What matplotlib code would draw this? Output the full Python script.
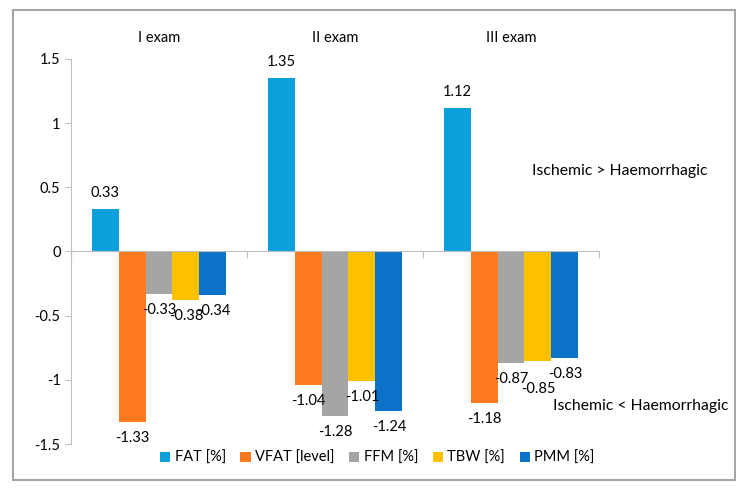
import numpy as np
import matplotlib.pyplot as plt
from matplotlib.patches import Rectangle

plt.rcParams['font.family'] = ['Lato', 'DejaVu Sans']

# data
exams = ['I exam', 'II exam', 'III exam']
series = ['FAT [%]', 'VFAT [level]', 'FFM [%]', 'TBW [%]', 'PMM [%]']
fat = [0.33, 1.35, 1.12]
vfat = [-1.33, -1.04, -1.18]
ffm = [-0.33, -1.28, -0.87]
tbw = [-0.38, -1.01, -0.85]
pmm = [-0.34, -1.24, -0.83]
colors = ['#0ba0dc', '#ff7a1e', '#a5a5a5', '#ffc000', '#0a72c8']

values = [fat, vfat, ffm, tbw, pmm]

fig = plt.figure(figsize=(7.5, 4.94), dpi=100)
ax = fig.add_axes([0.0947, 0.1012, 0.704, 0.7794])

x = np.arange(len(exams))
w = 0.153
for i, (name, vals, c) in enumerate(zip(series, values, colors)):
    pos = x - 2 * w + i * w
    ax.bar(pos, vals, width=w, color=c, label=name, zorder=2)
    for p, v in zip(pos, vals):
        # manual nudges like the original
        extra = 0.0
        if name == 'TBW [%]' and v == -0.85:
            extra = -0.1
        if v >= 0:
            ax.text(p, v + 0.07, f'{v:.2f}', ha='center', va='bottom', fontsize=10.5)
        else:
            ax.text(p, v - 0.07 + extra, f'{v:.2f}', ha='center', va='top', fontsize=10.5)

# exam titles above groups
for xi, lab in zip(x, exams):
    ax.text(xi, 1.66, lab, ha='center', va='center', fontsize=10.5, clip_on=False)

ax.text(2.12, 0.63, 'Ischemic > Haemorrhagic', ha='left', va='center', fontsize=11.3)
ax.text(2.24, -1.2, 'Ischemic < Haemorrhagic', ha='left', va='center', fontsize=11.3)

ax.set_xlim(-0.5, 2.5)
ax.set_ylim(-1.5, 1.5)
ax.set_yticks([-1.5, -1, -0.5, 0, 0.5, 1, 1.5])
ax.set_yticklabels(['-1.5', '-1', '-0.5', '0', '0.5', '1', '1.5'], fontsize=10.5)
ax.set_xticks([-0.5, 0.5, 1.5, 2.5])
ax.set_xticklabels([])
ax.tick_params(axis='x', length=5, color='#bfbfbf', direction='out')
ax.tick_params(axis='y', length=4, color='#bfbfbf', direction='out')

ax.spines['top'].set_visible(False)
ax.spines['right'].set_visible(False)
ax.spines['bottom'].set_position(('data', 0))
ax.spines['bottom'].set_color('#bfbfbf')
ax.spines['left'].set_color('#bfbfbf')
ax.spines['bottom'].set_zorder(3)

ax.legend(loc='center', bbox_to_anchor=(0.58, -0.036), ncol=5, frameon=False,
          fontsize=10.5, handlelength=0.7, handleheight=0.7, handletextpad=0.3,
          columnspacing=1.0, borderpad=0)

# outer border
fig.patches.append(Rectangle((13 / 750, 1 - 480 / 494), 722 / 750, 470 / 494,
                             transform=fig.transFigure, fill=False,
                             edgecolor='#a6a6a6', linewidth=1.5))

fig.savefig('out.png', dpi=100)
